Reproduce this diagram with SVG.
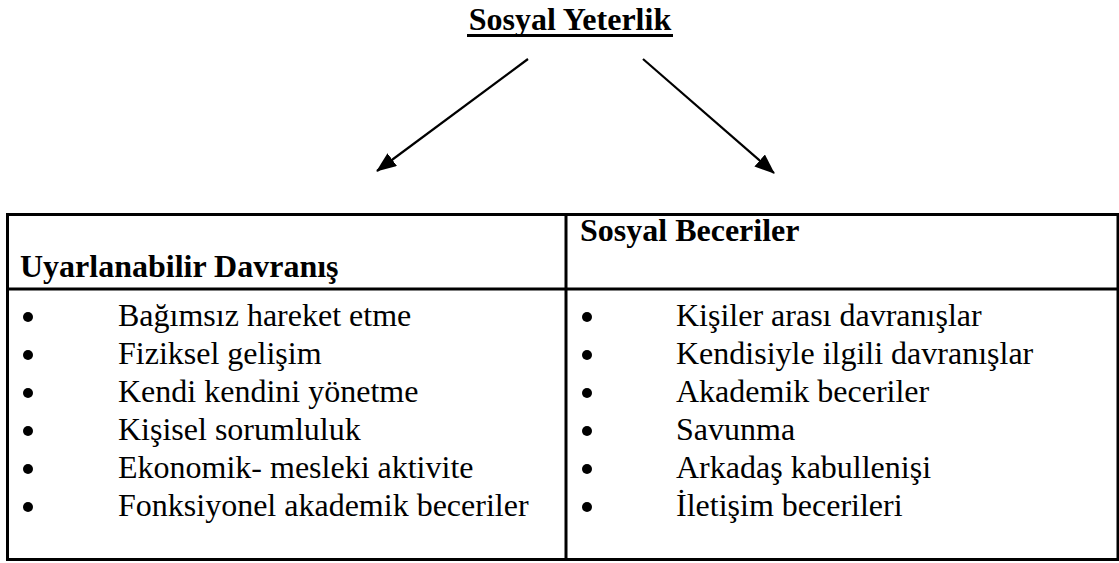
<svg xmlns="http://www.w3.org/2000/svg" width="1119" height="563" viewBox="0 0 1119 563">
<style>
text{font-family:"Liberation Serif","Times New Roman",serif;fill:#000;font-size:32px}
.b{font-weight:bold}
.ln{stroke:#000;stroke-width:3;fill:none}
.ar{stroke:#000;stroke-width:2.2;fill:none;marker-end:url(#ah)}
</style>
<defs>
<marker id="ah" viewBox="0 0 20 16" refX="19" refY="8" markerWidth="20" markerHeight="16" orient="auto" markerUnits="userSpaceOnUse">
<path d="M0,0 L20,8 L0,16 z" fill="#000"/>
</marker>
</defs>
<g id="title">
<text class="b" x="570" y="30" text-anchor="middle">Sosyal Yeterlik</text>
<rect x="467" y="34" width="206" height="3" fill="#000"/>
</g>
<g id="connectors">
<line class="ar" x1="528" y1="59" x2="377" y2="171"/>
<line class="ar" x1="643" y1="59" x2="774" y2="173"/>
</g>
<g id="table">
<rect class="ln" x="7.5" y="214.5" width="1110.5" height="345"/>
<line class="ln" x1="566" y1="214" x2="566" y2="560"/>
<line class="ln" x1="7" y1="289" x2="1118" y2="289"/>
</g>
<g id="left">
<text class="b" x="20" y="277">Uyarlanabilir Davranış</text>
<circle cx="28" cy="317" r="5"/><text x="118" y="326">Bağımsız hareket etme</text>
<circle cx="28" cy="355" r="5"/><text x="118" y="364">Fiziksel gelişim</text>
<circle cx="28" cy="393" r="5"/><text x="118" y="402">Kendi kendini yönetme</text>
<circle cx="28" cy="431" r="5"/><text x="118" y="440">Kişisel sorumluluk</text>
<circle cx="28" cy="469" r="5"/><text x="118" y="478">Ekonomik- mesleki aktivite</text>
<circle cx="28" cy="507" r="5"/><text x="118" y="516">Fonksiyonel akademik beceriler</text>
</g>
<g id="right">
<text class="b" x="580" y="241">Sosyal Beceriler</text>
<circle cx="587" cy="317" r="5"/><text x="676" y="326">Kişiler arası davranışlar</text>
<circle cx="587" cy="355" r="5"/><text x="676" y="364">Kendisiyle ilgili davranışlar</text>
<circle cx="587" cy="393" r="5"/><text x="676" y="402">Akademik beceriler</text>
<circle cx="587" cy="431" r="5"/><text x="676" y="440">Savunma</text>
<circle cx="587" cy="469" r="5"/><text x="676" y="478">Arkadaş kabullenişi</text>
<circle cx="587" cy="507" r="5"/><text x="676" y="516">İletişim becerileri</text>
</g>
</svg>
